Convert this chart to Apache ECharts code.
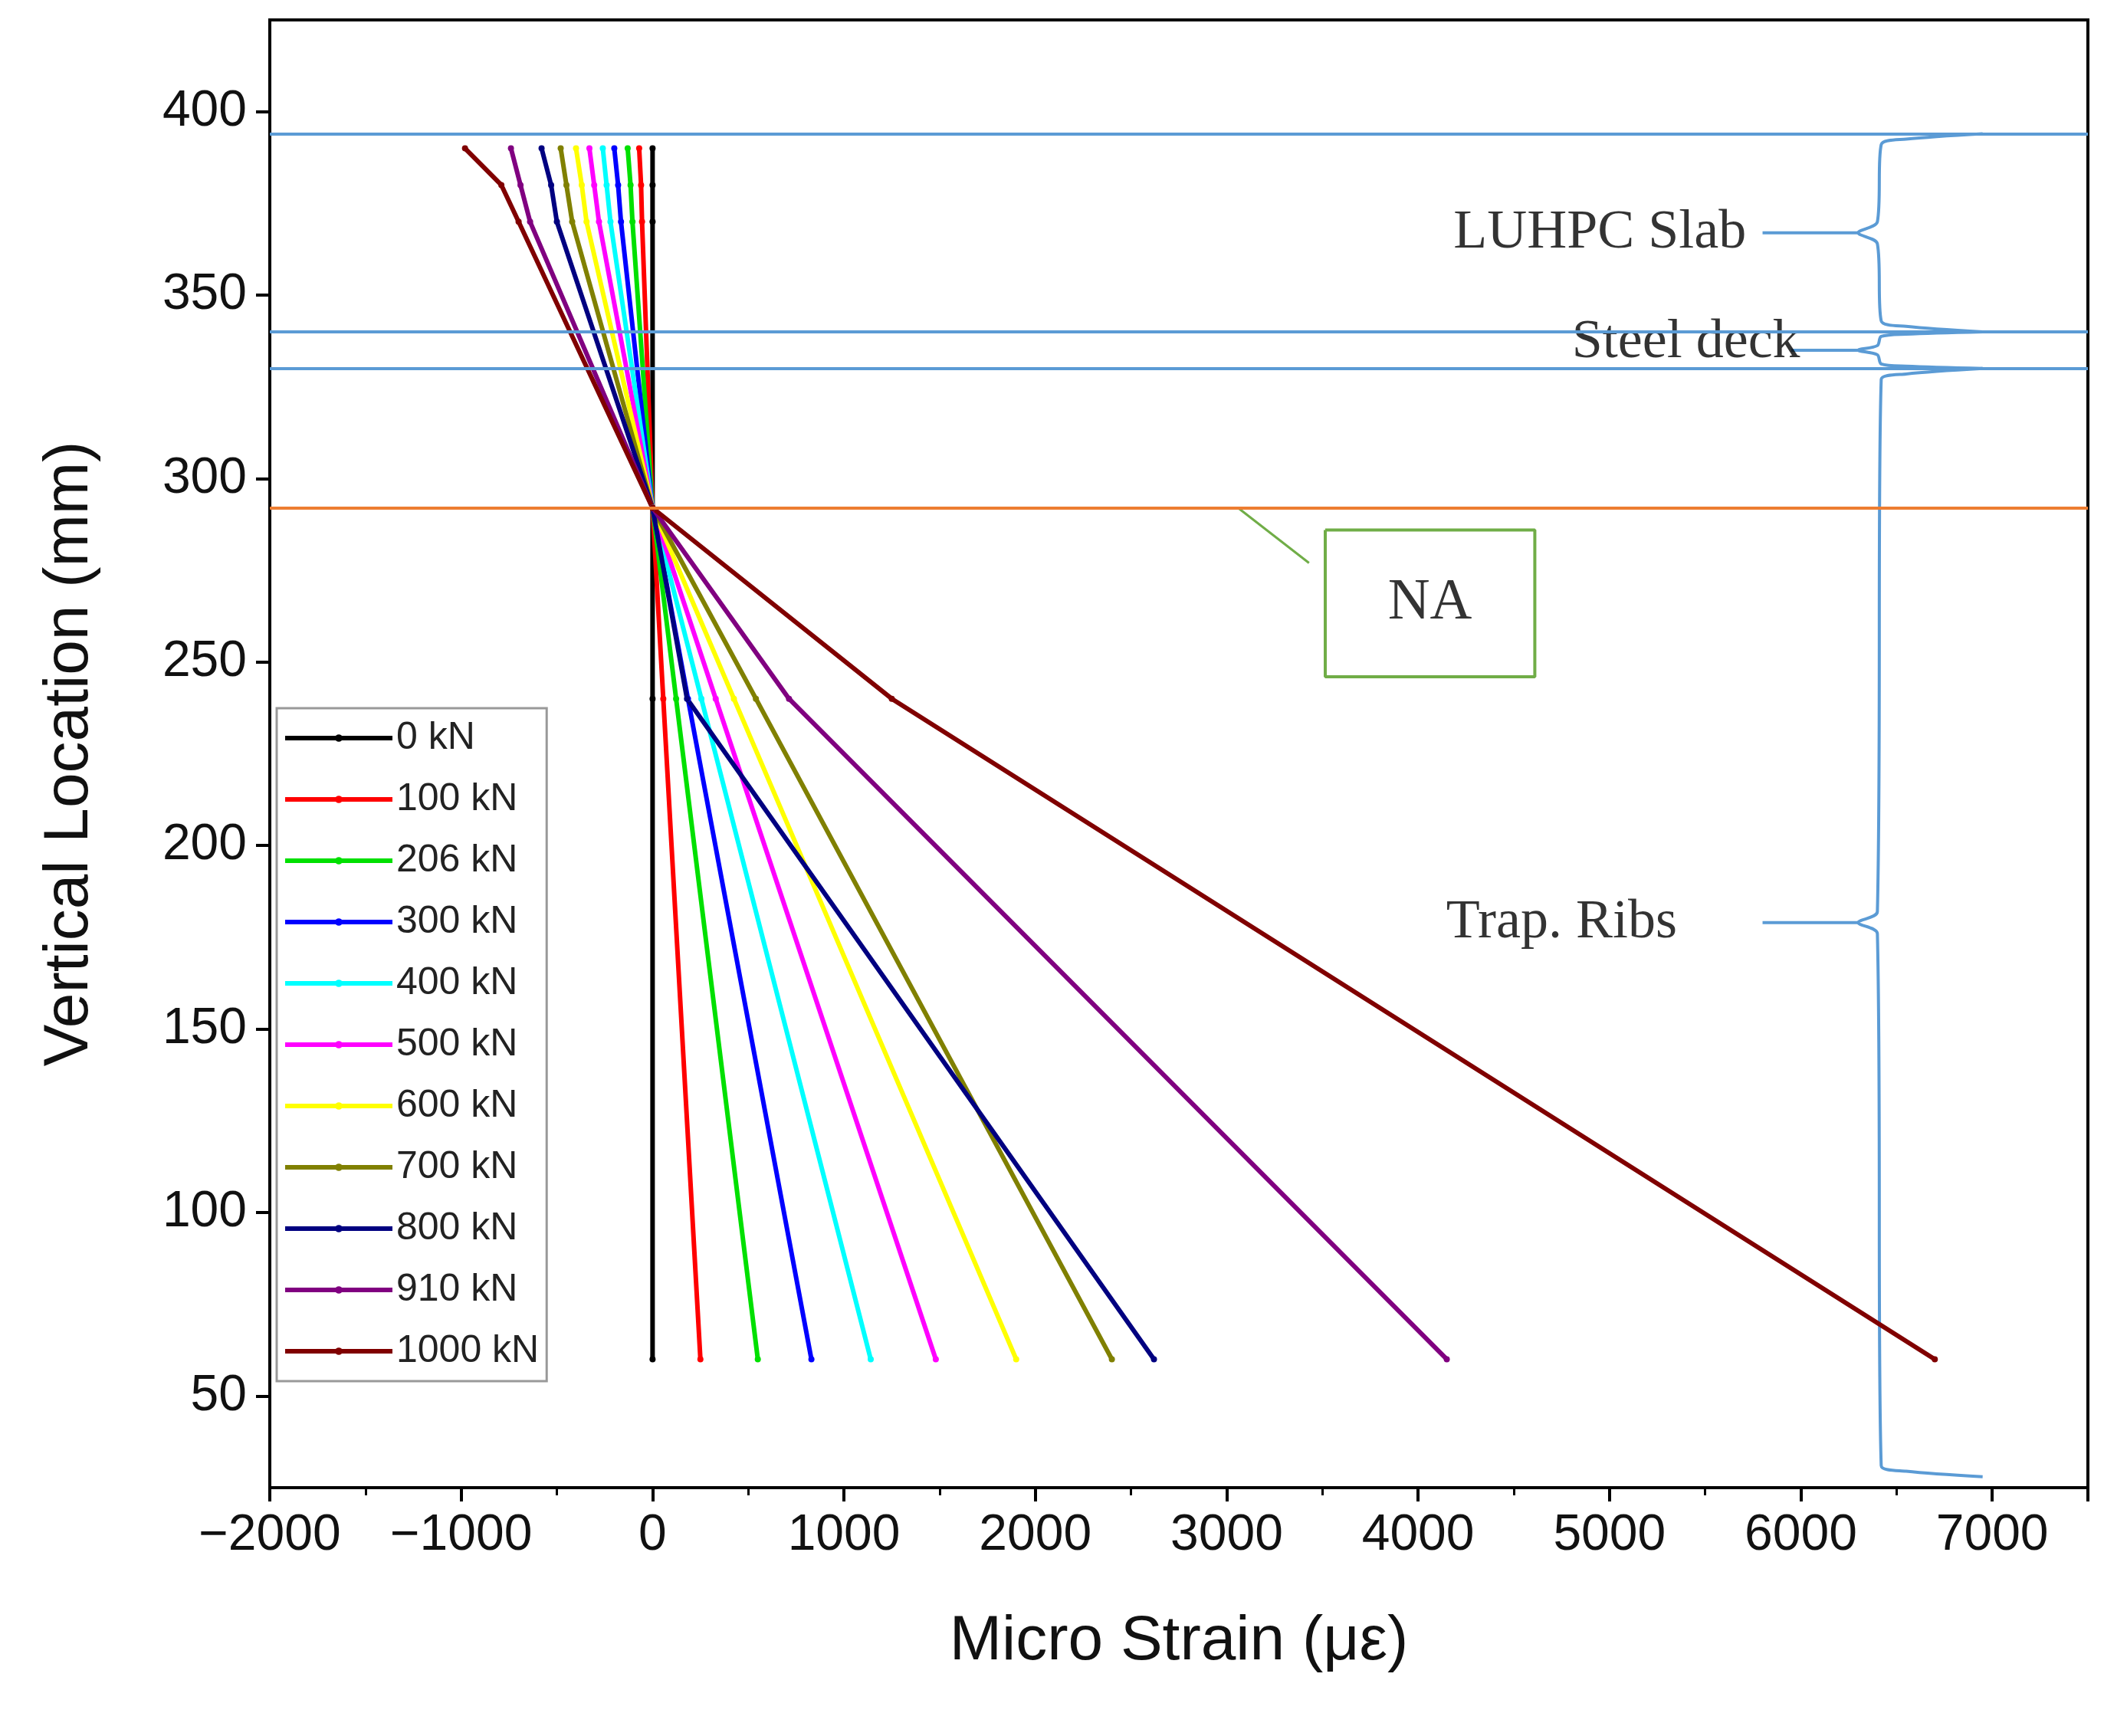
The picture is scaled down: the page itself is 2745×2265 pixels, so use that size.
<!DOCTYPE html>
<html><head><meta charset="utf-8">
<script src="https://cdn.jsdelivr.net/npm/echarts@6/dist/echarts.min.js"></script>
<style>html,body{margin:0;background:#fff}#c{width:2745px;height:2265px}</style>
</head><body><div id="c"></div>
<script>
const heights = [390, 380, 370, 292, 240, 60];
const loads = ['0 kN','100 kN','206 kN','300 kN','400 kN','500 kN','600 kN','700 kN','800 kN','910 kN','1000 kN'];
const colors = ['#000000','#ff0000','#00e000','#0000ff','#00ffff','#ff00ff','#ffff00','#808000','#000080','#800080','#800000'];
const s0 = [0,0,0,0,0,0];
const s100 = [-70,-60,-55,0,56,250];
const s206 = [-130,-115,-105,0,123,550];
const s300 = [-200,-180,-165,0,185,830];
const s400 = [-260,-240,-220,0,255,1140];
const s500 = [-330,-305,-280,0,330,1480];
const s600 = [-400,-370,-345,0,425,1900];
const s700 = [-480,-450,-420,0,540,2400];
const s800 = [-580,-530,-500,0,180,2620];
const s910 = [-740,-690,-640,0,713,4150];
const s1000 = [-980,-790,-700,0,1250,6700];
const strains = [s0,s100,s206,s300,s400,s500,s600,s700,s800,s910,s1000];
const xTicks = {min:-2000,max:7500,interval:1000};
const yTicks = {min:25,max:425};
const yLabels = [50,100,150,200,250,300,350,400];
const zones = [{label:'LUHPC Slab',top:394,bottom:340},{label:'Steel deck',top:340,bottom:330},{label:'Trap. Ribs',top:330,bottom:28}];
const naY = 292;

const chart = echarts.init(document.getElementById('c'));
const series = loads.map((n,i)=>({
  name:n,type:'line',data:strains[i].map((v,j)=>[v,heights[j]]),
  lineStyle:{color:colors[i],width:6},itemStyle:{color:colors[i]},
  symbol:'circle',symbolSize:8,z:3
}));
function brace(t,b){
  const m=(t+b)/2,d=Math.min(3,(t-b)/8);
  return [[6950,t],[6550,t-d*0.5],[6420,t-d],[6400,m+d],[6300,m],[6400,m-d],[6420,b+d],[6550,b+d*0.5],[6950,b]];
}
const blue='#5b9bd5';
zones.forEach((z,i)=>{
  series.push({type:'line',data:brace(z.top,z.bottom),smooth:0.3,symbol:'none',silent:true,
    lineStyle:{color:blue,width:4},z:2});
  const m=(z.top+z.bottom)/2;
  series.push({type:'line',data:[[i==1?5950:5800,m],[6300,m]],symbol:'none',silent:true,lineStyle:{color:blue,width:4},z:2});
});
const lblX=[4950,5400,4750];
series.push({type:'scatter',silent:true,symbolSize:0,data:zones.map((z,i)=>({value:[lblX[i],(z.top+z.bottom)/2+(i==1?2:0)],label:{show:true,formatter:z.label}})),
  label:{color:'#000',fontFamily:'Liberation Serif',fontSize:72,position:'inside'}});
series.push({type:'line',data:[[-2000,0]],symbol:'none',silent:true,lineStyle:{opacity:0},
  markLine:{silent:true,symbol:'none',label:{show:false},data:[
    {yAxis:394,lineStyle:{color:blue,width:4,type:'solid'}},
    {yAxis:340,lineStyle:{color:blue,width:4,type:'solid'}},
    {yAxis:330,lineStyle:{color:blue,width:4,type:'solid'}},
    {yAxis:naY,lineStyle:{color:'#ed7d31',width:4,type:'solid'}}]}});
series.push({type:'line',data:[[3060,naY],[3430,277]],symbol:'none',silent:true,lineStyle:{color:'#70ad47',width:3}});
series.push({type:'line',data:[[3515,286],[4610,286],[4610,246],[3515,246],[3515,286]],symbol:'none',silent:true,lineStyle:{color:'#70ad47',width:4}});
series.push({type:'scatter',silent:true,symbolSize:0,data:[{value:[4062,266],label:{show:true,formatter:'NA'}}],
  label:{color:'#000',fontFamily:'Liberation Serif',fontSize:76,position:'inside'}});

chart.setOption({
  animation:false,backgroundColor:'#fff',
  grid:{left:352,right:21,top:26,bottom:324,show:true,borderColor:'#000',borderWidth:4},
  legend:{data:loads,orient:'vertical',left:361,top:924,itemWidth:140,itemHeight:12,itemGap:30,
    backgroundColor:'#fff',borderColor:'#999',borderWidth:3,padding:[14,10,14,8],
    lineStyle:{width:6},
    textStyle:{fontSize:50,fontFamily:'Liberation Sans',color:'#222'}},
  xAxis:{type:'value',min:xTicks.min,max:xTicks.max,interval:xTicks.interval,
    name:'Micro Strain (\u03bc\u03b5)',nameLocation:'middle',nameGap:160,
    nameTextStyle:{fontSize:82,fontFamily:'Liberation Sans',color:'#111'},
    axisLine:{onZero:false,lineStyle:{color:'#000',width:4}},axisTick:{length:18,lineStyle:{width:4,color:'#000'}},
    minorTick:{show:true,splitNumber:2,length:10,lineStyle:{width:3,color:'#000'}},
    splitLine:{show:false},axisLabel:{fontSize:66,fontFamily:'Liberation Sans',color:'#111',margin:30,
      formatter:v=>v<0?'\u2212'+(-v):''+v}},
  yAxis:{type:'value',min:yTicks.min,max:yTicks.max,
    name:'Vertical Location (mm)',nameLocation:'middle',nameGap:220,
    nameTextStyle:{fontSize:82,fontFamily:'Liberation Sans',color:'#111'},
    axisLine:{onZero:false,lineStyle:{color:'#000',width:4}},axisTick:{length:18,lineStyle:{width:4,color:'#000'},customValues:yLabels},
    minorTick:{show:false},
    splitLine:{show:false},axisLabel:{fontSize:66,fontFamily:'Liberation Sans',color:'#111',margin:30,
      customValues:yLabels}},
  series
});
</script></body></html>
